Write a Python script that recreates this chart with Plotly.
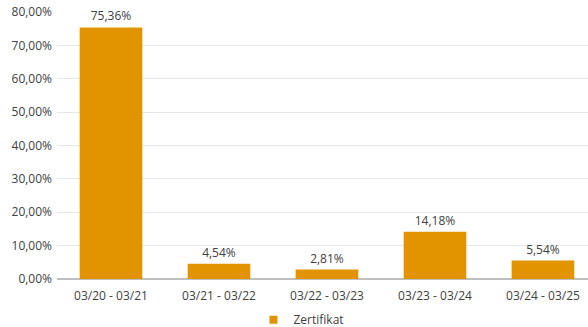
import plotly.graph_objects as go

categories = ["03/20 - 03/21", "03/21 - 03/22", "03/22 - 03/23", "03/23 - 03/24", "03/24 - 03/25"]
values = [75.36, 4.54, 2.81, 14.18, 5.54]
series_name = "Zertifikat"
tick_vals = [0, 10, 20, 30, 40, 50, 60, 70, 80]
tick_text = ["0,00%", "10,00%", "20,00%", "30,00%", "40,00%", "50,00%", "60,00%", "70,00%", "80,00%"]

fig = go.Figure()
fig.add_trace(go.Bar(
    x=list(range(len(categories))), y=values, name=series_name,
    marker=dict(color="#E29400", line=dict(width=0)),
    width=0.58, showlegend=False,
    text=values, texttemplate="%{y:.2f}%", textposition="outside",
    textfont=dict(size=12, color="#404040"), cliponaxis=False,
))
fig.add_trace(go.Scatter(
    x=[None], y=[None], mode="markers", name=series_name,
    marker=dict(symbol="square", size=8, color="#E29400"), showlegend=True,
))
fig.update_layout(
    width=588, height=327,
    margin=dict(l=57, r=0, t=12, b=48, autoexpand=False),
    paper_bgcolor="white", plot_bgcolor="white",
    separators=",.",
    font=dict(family="Open Sans, sans-serif", size=12, color="#404040"),
    showlegend=True,
    legend=dict(orientation="h", x=0.37, xanchor="left", yref="container", y=0.022, yanchor="middle",
                font=dict(size=12, color="#404040"), itemwidth=30,
                bgcolor="rgba(0,0,0,0)"),
    bargap=0.42,
)
fig.update_xaxes(
    tickmode="array", tickvals=list(range(len(categories))), ticktext=categories,
    range=[-0.5, 4.417], showgrid=False, zeroline=False, showline=False,
    ticks="", ticklabelstandoff=8, tickfont=dict(size=12, color="#404040"),
)
fig.update_yaxes(
    range=[0, 80], tickvals=tick_vals, ticktext=tick_text,
    showgrid=True, gridcolor="#E6E6E6", gridwidth=1,
    zeroline=True, zerolinecolor="#BFBFBF", zerolinewidth=2,
    ticks="", ticklabelstandoff=4, tickfont=dict(size=12, color="#404040"),
)
fig.write_html("out.html")
